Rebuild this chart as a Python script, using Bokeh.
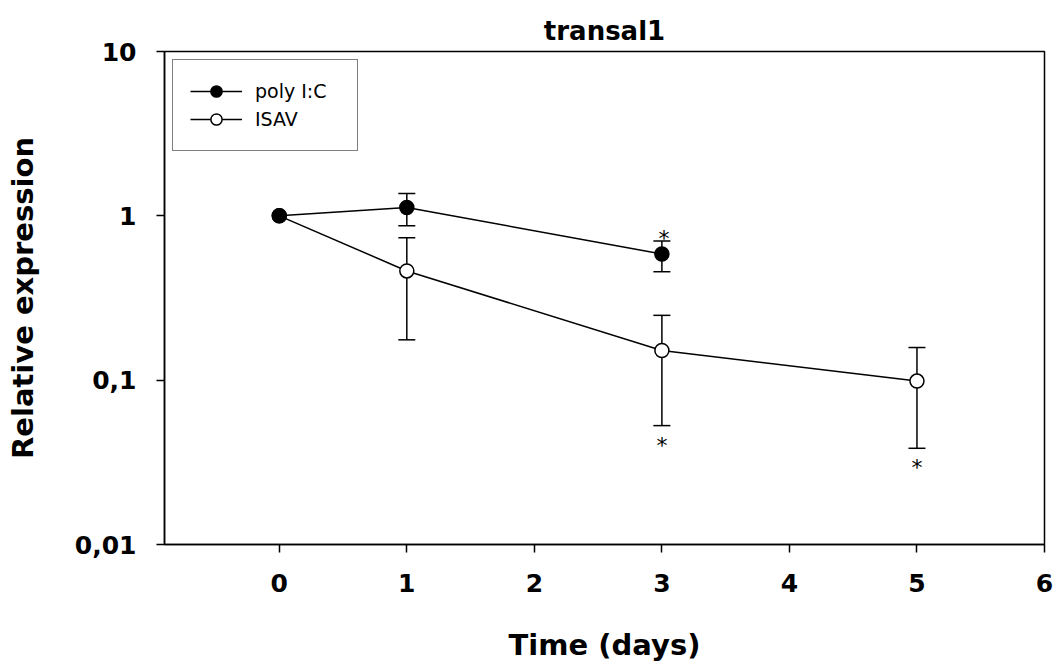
from bokeh.plotting import figure
from bokeh.models import Range1d, FixedTicker, Whisker, TeeHead, ColumnDataSource, Legend, LegendItem
from bokeh.core.properties import value
from bokeh.embed import file_html
from bokeh.resources import INLINE

# ---- data ----
poly_days = [0, 1, 3]
poly_mean = [1.0, 1.125, 0.585]
poly_err_days = [1, 3]
poly_upper = [1.368, 0.702]
poly_lower = [0.870, 0.457]

isav_days = [0, 1, 3, 5]
isav_mean = [1.0, 0.462, 0.1515, 0.0987]
isav_err_days = [1, 3, 5]
isav_upper = [0.735, 0.248, 0.158]
isav_lower = [0.176, 0.0529, 0.0385]

# significance stars: (day, anchor value)
star_days = [3, 3, 5]
star_anchor = [poly_upper[1], isav_lower[1], isav_lower[2]]
star_dy = [-3, 20, 19]
star_dx = [2, 0, 0]

x_ticks = [0, 1, 2, 3, 4, 5, 6]
y_ticks = [0.01, 0.1, 1, 10]
y_tick_labels = ["0,01", "0,1", "1", "10"]

FONT = "DejaVu Sans"

p = figure(width=1053, height=664, y_axis_type="log",
           x_range=Range1d(-0.9, 6), y_range=Range1d(0.01, 10),
           output_backend="svg", toolbar_location=None,
           min_border_left=164, min_border_right=9,
           min_border_top=51, min_border_bottom=119,
           title="transal1")
p.background_fill_color = "white"
p.border_fill_color = "white"
p.outline_line_color = "black"
p.outline_line_width = 1.5
p.grid.visible = False

p.title.align = "center"
p.title.text_font = FONT
p.title.text_font_size = "26px"
p.title.text_font_style = "bold"
p.title.text_color = "black"
p.title.standoff = 12

for ax in (p.xaxis[0], p.yaxis[0]):
    ax.axis_line_width = 1.5
    ax.axis_line_color = "black"
    ax.major_tick_line_width = 1.5
    ax.major_tick_line_color = "black"
    ax.major_tick_in = 0
    ax.major_tick_out = 8
    ax.minor_tick_line_color = None
    ax.major_label_text_font = FONT
    ax.major_label_text_font_size = "25px"
    ax.major_label_text_font_style = "bold"
    ax.major_label_text_color = "black"
    ax.axis_label_text_font = FONT
    ax.axis_label_text_font_size = "29px"
    ax.axis_label_text_font_style = "bold"
    ax.axis_label_text_color = "black"

p.xaxis.ticker = FixedTicker(ticks=x_ticks)
p.xaxis.major_label_standoff = 21
p.xaxis.axis_label = "Time (days)"
p.xaxis.axis_label_standoff = 33

p.yaxis.ticker = FixedTicker(ticks=y_ticks)
p.yaxis.major_label_overrides = {t: l for t, l in zip(y_ticks, y_tick_labels)}
p.yaxis.major_label_standoff = 20
p.yaxis.axis_label = "Relative expression"
p.yaxis.axis_label_standoff = 32

# lines
l_poly = p.line(poly_days, poly_mean, line_color="black", line_width=1.5)
l_isav = p.line(isav_days, isav_mean, line_color="black", line_width=1.5)

# error bars
src_pe = ColumnDataSource(dict(x=poly_err_days, up=poly_upper, lo=poly_lower))
src_ie = ColumnDataSource(dict(x=isav_err_days, up=isav_upper, lo=isav_lower))
for src in (src_pe, src_ie):
    w = Whisker(source=src, base="x", upper="up", lower="lo",
                line_color="black", line_width=1.5,
                upper_head=TeeHead(size=17, line_width=1.5, line_color="black"),
                lower_head=TeeHead(size=17, line_width=1.5, line_color="black"))
    p.add_layout(w)

# markers
m_isav = p.scatter(isav_days, isav_mean, size=14, marker="circle",
                   fill_color="white", line_color="black", line_width=1.5)
m_poly = p.scatter(poly_days, poly_mean, size=14, marker="circle",
                   fill_color="black", line_color="black", line_width=1.5)

# stars
star_src = ColumnDataSource(dict(x=star_days, y=star_anchor, dy=star_dy, dx=star_dx,
                                 t=["*"] * len(star_days)))
p.text(x="x", y="y", text="t", source=star_src, x_offset="dx", y_offset="dy",
       text_align="center", text_baseline="middle",
       text_font=value(FONT), text_font_size="22px", text_color="black")

legend = Legend(items=[LegendItem(label="poly I:C", renderers=[l_poly, m_poly]),
                       LegendItem(label="ISAV", renderers=[l_isav, m_isav])],
                location="top_left")
legend.margin = 8
legend.border_line_color = "black"
legend.border_line_width = 1
legend.background_fill_color = "white"
legend.label_text_font = FONT
legend.label_text_font_size = "19px"
legend.label_text_color = "black"
legend.glyph_width = 52
legend.glyph_height = 28
legend.spacing = 0
legend.padding = 17
legend.label_standoff = 13
legend.label_width = 85
p.add_layout(legend, "center")

open("out.html", "w").write(file_html(p, INLINE))
